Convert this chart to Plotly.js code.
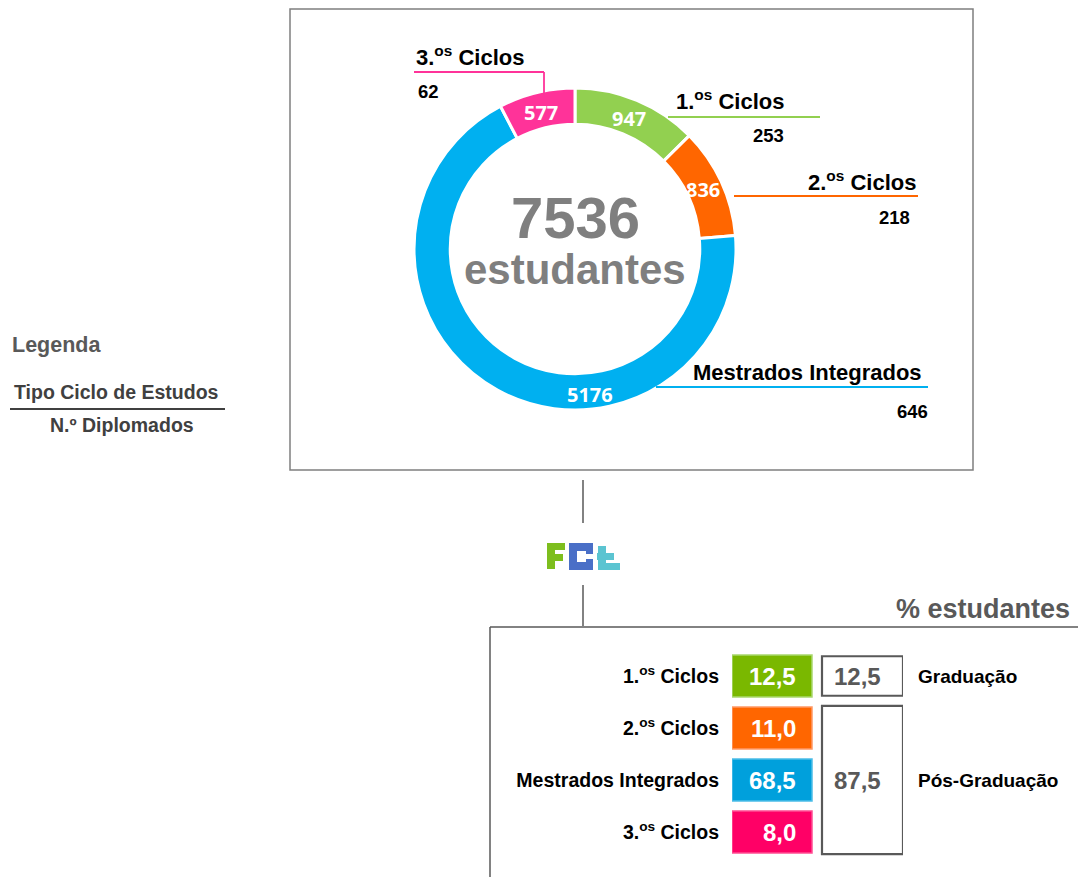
<!DOCTYPE html>
<html><head><meta charset="utf-8">
<script src="https://cdn.plot.ly/plotly-3.0.1.min.js"></script>
<style>html,body{margin:0;padding:0;background:#fff}#chart{width:1078px;height:877px}</style>
</head><body><div id="chart"></div>
<script>
// ---- data ----
const categories = ['1.<sup>os</sup> Ciclos', '2.<sup>os</sup> Ciclos', 'Mestrados Integrados', '3.<sup>os</sup> Ciclos'];
const students = [947, 836, 5176, 577];
const graduates = [253, 218, 646, 62];
const percentages = [12.5, 11.0, 68.5, 8.0];
const groupLabels = ['Graduação', 'Pós-Graduação'];
const groupPercentages = [12.5, 87.5];
const groupRows = [[0], [1, 2, 3]];

// ---- style ----
const W = 1078, H = 877;
const px = x => x / W;
const py = y => 1 - y / H;
const FONT = 'Liberation Sans, Arial, sans-serif';
const donutColors = ['#92D050', '#FF6600', '#00B0F0', '#FF3399'];
const tableColors = ['#7AB800', '#FF6600', '#00A0DC', '#FF0066'];
const tableBorders = ['#A9D86E', '#FF9966', '#4CBDE8', '#FF4D94'];
const leaderColors = donutColors;
const fmt = v => v.toFixed(1).replace('.', ',');
const total = students.reduce((a, b) => a + b, 0);

// Pie: domain for centre (575,249), radius 161
const CX = 575, CY = 249, R_OUT = 161, R_LABEL = 141;
const pie = {
  type: 'pie',
  values: students,
  labels: categories,
  sort: false,
  direction: 'clockwise',
  rotation: 0,
  hole: 0.775,
  domain: {x: [px(CX - R_OUT), px(CX + R_OUT)], y: [py(CY + R_OUT), py(CY - R_OUT)]},
  marker: {colors: donutColors, line: {color: '#ffffff', width: 3}},
  textinfo: 'none',
  hoverinfo: 'label+value',
  showlegend: false
};

// Table bars
const colBar = 1;
const grpBase = 1.125;
const grpLen = 1.0125;
const rowsIdx = categories.map((_, i) => i);
const cellBars = {
  type: 'bar', orientation: 'h',
  y: rowsIdx, x: rowsIdx.map(() => colBar), base: 0, width: 0.81,
  marker: {color: tableColors, line: {color: tableBorders, width: 1.5}},
  hoverinfo: 'skip', showlegend: false, xaxis: 'x', yaxis: 'y'
};
const groupCenters = groupRows.map(r => r.reduce((a, b) => a + b, 0) / r.length);
const groupHeights = [0.76, 2.85];
const groupBars = {
  type: 'bar', orientation: 'h',
  y: groupCenters, x: groupCenters.map(() => grpLen), base: grpBase, width: groupHeights,
  marker: {color: 'rgba(255,255,255,0)', line: {color: '#595959', width: 2.2}},
  hoverinfo: 'skip', showlegend: false, xaxis: 'x', yaxis: 'y'
};

const shapes = [];
const line = (x0, y0, x1, y1, color, width) => shapes.push({type: 'line', xref: 'paper', yref: 'paper',
  x0: px(x0), y0: py(y0), x1: px(x1), y1: py(y1), line: {color: color, width: width}});
const rect = (x0, y0, x1, y1, color) => shapes.push({type: 'rect', xref: 'paper', yref: 'paper',
  x0: px(x0), y0: py(y1), x1: px(x1), y1: py(y0), line: {width: 0}, fillcolor: color});
// outer box
shapes.push({type: 'rect', xref: 'paper', yref: 'paper', x0: px(290), y0: py(470), x1: px(973), y1: py(9),
  line: {color: '#7F7F7F', width: 1.5}, fillcolor: 'rgba(0,0,0,0)'});
// leaders
line(668, 117, 820, 117, leaderColors[0], 2);
line(734, 196, 918, 196, leaderColors[1], 1.8);
line(656, 387, 928, 387, leaderColors[2], 2);
line(414, 72, 544, 72, leaderColors[3], 1.8);
line(544, 72, 544, 98, leaderColors[3], 1.8);
// legend rule
line(10, 409, 225, 409, '#000000', 1.5);
// connectors
line(583, 480, 583, 523, '#595959', 1.5);
line(583, 585, 583, 626, '#595959', 1.5);
// bottom box
line(490, 627, 1078, 627, '#595959', 1.5);
line(490, 627, 490, 877, '#595959', 1.5);
// FCT logo (blocky letters)
const LG = '#7DBE1E', LB = '#4A6FC7', LT = '#5BC4D1';
rect(547, 543, 555, 569, LG); rect(547, 543, 565, 550, LG); rect(547, 554, 563, 561, LG);
rect(569, 544, 577, 569, LB); rect(569, 543, 586, 551, LB); rect(569, 562, 586, 570, LB);
rect(586, 543, 593, 554, LB); rect(586, 559, 593, 570, LB);
rect(598, 546, 606, 570, LT); rect(597, 553, 614, 560, LT); rect(598, 563, 620, 570, LT);

const ann = [];
const txt = (text, x, y, size, color, xanchor, extra) => ann.push(Object.assign({
  text: text, xref: 'paper', yref: 'paper', x: px(x), y: py(y), xanchor: xanchor || 'center', yanchor: 'middle',
  showarrow: false, font: {family: FONT, size: size, color: color || '#000'}
}, extra || {}));

// slice values (at mid-angle of each slice; large slice label placed near the bottom)
let cum = 0;
students.forEach((v, i) => {
  const mid = (cum + v / 2) / total * 2 * Math.PI;
  cum += v;
  let x = CX + R_LABEL * Math.sin(mid), y = CY - R_LABEL * Math.cos(mid);
  if (i === 2) { x = 590; y = 395; }
  ann.push({text: '<b>' + v + '</b>', xref: 'paper', yref: 'paper', x: px(x), y: py(y),
    xanchor: 'center', yanchor: 'middle', showarrow: false,
    font: {family: 'Open Sans, sans-serif', size: 20, color: '#ffffff'}});
});

// callouts
const calloutPos = [[786, 100, 786, 135], [918, 181, 912, 218], [924, 372, 930, 411], [414, 56, 416, 91]];
categories.forEach((c, i) => {
  const p = calloutPos[i];
  const anchor = i === 3 ? 'left' : 'right';
  txt('<b>' + c + '</b>', p[0], p[1], 22, '#000', anchor);
  txt('<b>' + graduates[i] + '</b>', p[2], p[3], 18.5, '#000', anchor);
});
// centre
txt('<b>' + total + '</b>', 575, 218, 58, '#7F7F7F');
txt('<b>estudantes</b>', 575, 269, 42, '#7F7F7F');
// legend
txt('<b>Legenda</b>', 10, 345, 21.5, '#595959', 'left');
txt('<b>Tipo Ciclo de Estudos</b>', 116, 392, 19.5, '#404040');
txt('<b>N.º Diplomados</b>', 122, 425, 19.5, '#404040');
// % estudantes
txt('<b>% estudantes</b>', 1072, 609, 27, '#595959', 'right');
// cell values
percentages.forEach((v, i) => ann.push({text: '<b>' + fmt(v) + '</b>', xref: 'x', yref: 'y', x: colBar, y: i,
  xanchor: 'right', yanchor: 'middle', xshift: -14, showarrow: false,
  font: {family: FONT, size: 24, color: '#ffffff'}}));
// group values and labels
groupPercentages.forEach((v, i) => ann.push({text: '<b>' + fmt(v) + '</b>', xref: 'x', yref: 'y',
  x: grpBase + grpLen / 2, y: groupCenters[i], xanchor: 'center', yanchor: 'middle', xshift: -5, showarrow: false,
  font: {family: FONT, size: 24, color: '#595959'}}));
groupLabels.forEach((g, i) => ann.push({text: '<b>' + g + '</b>', xref: 'x', yref: 'y', x: grpBase + grpLen,
  y: groupCenters[i], xanchor: 'left', yanchor: 'middle', xshift: 13, showarrow: false,
  font: {family: FONT, size: 19, color: '#000'}}));

const layout = {
  width: W, height: H,
  margin: {l: 0, r: 0, t: 0, b: 0},
  paper_bgcolor: '#ffffff', plot_bgcolor: 'rgba(0,0,0,0)',
  font: {family: FONT},
  showlegend: false,
  barmode: 'overlay',
  xaxis: {domain: [px(732), px(903)], range: [0, grpBase + grpLen], visible: false, fixedrange: true, anchor: 'y'},
  yaxis: {domain: [py(858), py(650)], range: [3.5, -0.5], anchor: 'x', fixedrange: true,
    tickvals: rowsIdx, ticktext: categories.map(c => '<b>' + c + '</b>'),
    showgrid: false, zeroline: false, showline: false, ticks: '', ticklabelstandoff: 12,
    tickfont: {family: FONT, size: 19.5, color: '#000'}},
  shapes: shapes,
  annotations: ann
};

Plotly.newPlot('chart', [pie, cellBars, groupBars], layout, {displayModeBar: false, staticPlot: true});
</script>
</body></html>
